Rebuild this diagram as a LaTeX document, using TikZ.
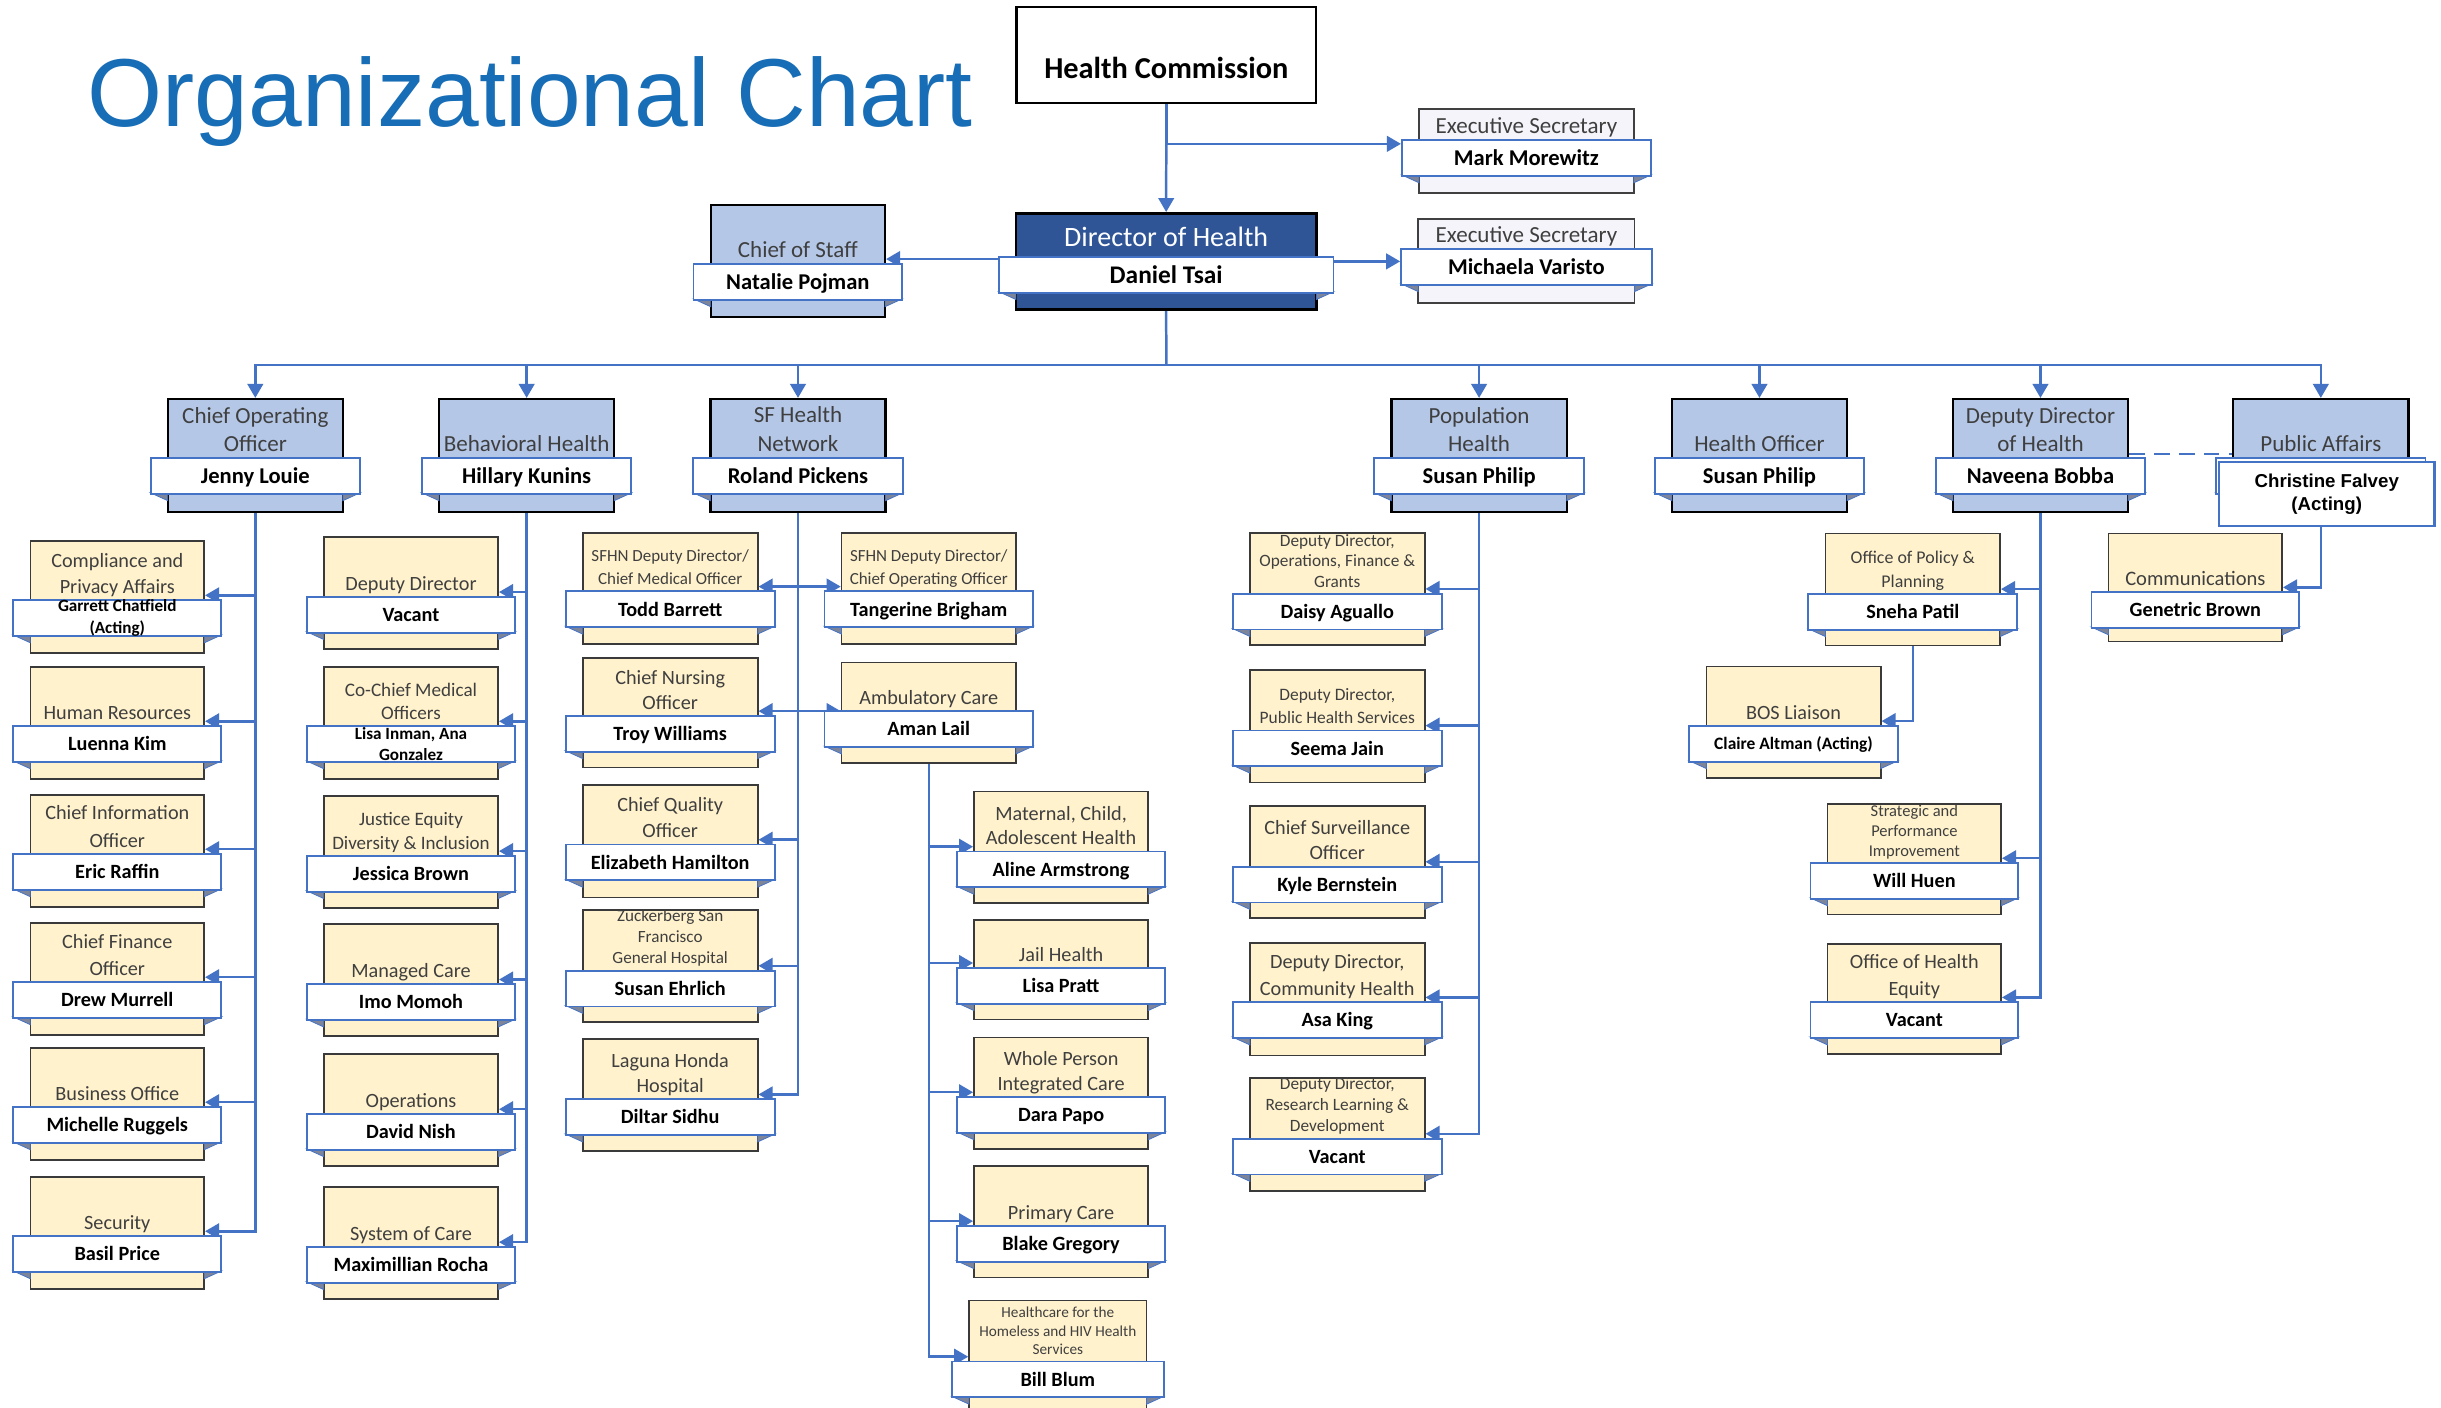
\documentclass[tikz,border=0pt]{standalone}
\usepackage{fontspec}
\setmainfont{Carlito}
\newfontfamily\afont{Liberation Sans}
\usetikzlibrary{arrows.meta,calc}
\pgfdeclarelayer{back}
\pgfdeclarelayer{bg}
\pgfsetlayers{back,bg,main}
\definecolor{cblue}{HTML}{4472C4}
\definecolor{lblue}{HTML}{B4C7E7}
\definecolor{dblue}{HTML}{2F5597}
\definecolor{lyel}{HTML}{FFF2CC}
\definecolor{txtg}{HTML}{3F3F3F}
\definecolor{ygray}{HTML}{3A3A3A}
\definecolor{egray}{HTML}{404040}
\definecolor{esfill}{HTML}{F4F4FA}
\definecolor{foldc}{HTML}{7F8598}
\definecolor{titleblue}{HTML}{176DB6}
\newcommand\lastdp{\rule[-4pt]{0pt}{4pt}}
\newcommand\orgbox[7]{%
  \node[#7, minimum width={#4}, minimum height={#5}, anchor=north] (#1) at ({#2},{#3}) {};
  \filldraw[fold] ({#2-#4/2-11},{#3+#6+23}) -- ({#2-#4/2},{#3+#6+23}) -- ({#2-#4/2},{#3+#6+28}) -- cycle;
  \filldraw[fold] ({#2+#4/2+11},{#3+#6+23}) -- ({#2+#4/2},{#3+#6+23}) -- ({#2+#4/2},{#3+#6+28}) -- cycle;
  \node[band, minimum width={#4+22}, anchor=north] (#1-n) at ({#2},{#3+#6}) {};}
\newcommand\Ttl[4]{\node[ttl={#2}{#3}] at ([yshift=-0.5pt]#1-n.north) {#4\lastdp};}
\newcommand\Nm[3]{\node[nm=#2] at (#1-n) {#3};}
\newcommand\Nmm[4]{\node[nmm={#2}{#3}] at (#1-n) {#4};}
\newcommand\toL[2]{\draw[arr] (#1.south) |- ($(#2.east |- #2-n.north)+(0pt,2.5pt)$);}
\newcommand\toR[2]{\draw[arr] (#1.south) |- ($(#2.west |- #2-n.north)+(0pt,2.5pt)$);}
\begin{document}
\begin{tikzpicture}[x=1pt,y=-1pt,
  conn/.style={draw=cblue, line width=1.6pt},
  arr/.style={conn, -{Triangle[length=9pt,width=10pt]}},
  bbox/.style={draw=black, line width=1.4pt, fill=lblue, inner sep=0pt},
  ybox/.style={draw=ygray, line width=1.1pt, fill=lyel, inner sep=0pt},
  dbox/.style={draw=black, line width=1.8pt, fill=dblue, inner sep=0pt},
  ebox/.style={draw=egray, line width=1.1pt, fill=esfill, inner sep=0pt},
  band/.style={draw=cblue, line width=1.2pt, fill=white, minimum height=23pt, inner sep=0pt},
  fold/.style={fill=foldc, draw=cblue, line width=0.5pt},
  ttl/.style 2 args={anchor=south, inner sep=0pt, align=center, text=txtg, font=\fontsize{#1}{#2}\selectfont},
  nm/.style={inner sep=0pt, text depth=0pt, text height=0.66*#1pt, text=black, font=\bfseries\fontsize{#1}{#1}\selectfont},
  nmm/.style 2 args={inner sep=0pt, align=center, text=black, font=\bfseries\fontsize{#1}{#2}\selectfont},
]
\useasboundingbox (0,0) rectangle (1568,904.4);
\begin{pgfonlayer}{back}
\fill[white] (0,0) rectangle (1568,904.4);
\end{pgfonlayer}

\node[anchor=base west, inner sep=0pt, text=titleblue, font=\afont\fontsize{62}{62}\selectfont] (title) at (56,81.5) {Organizational Chart};

% top
\node[draw=black, line width=1.5pt, fill=white, minimum width=192.5pt, minimum height=61.7pt, anchor=north, inner sep=0pt] (hc) at (749.2,3.9) {};
\node[nm=19.5] at (749.2,43.7) {Health Commission};

\orgbox{es1}{980.5}{69.4}{138}{54}{20}{ebox}
\Ttl{es1}{14.8}{17}{Executive Secretary}
\Nm{es1}{14.5}{Mark Morewitz}

\orgbox{dir}{749.1}{136.2}{193}{61.6}{28.2}{dbox}
\node[ttl={18}{20}, text=white] at ([yshift=1.7pt]dir-n.north) {Director of Health\lastdp};
\Nm{dir}{16.3}{Daniel Tsai}

\orgbox{cos}{512.5}{131}{112}{72}{38}{bbox}
\Ttl{cos}{14.8}{17.7}{Chief of Staff}
\Nm{cos}{14.5}{Natalie Pojman}

\orgbox{es2}{980.5}{140}{139}{54}{19.3}{ebox}
\Ttl{es2}{14.8}{17}{Executive Secretary}
\Nm{es2}{14.5}{Michaela Varisto}

% level 2
\orgbox{coo}{164}{255.6}{112.5}{72.4}{38}{bbox}
\Ttl{coo}{14.8}{17.7}{Chief Operating\\Officer}
\Nm{coo}{14.5}{Jenny Louie}
\orgbox{bh}{338.3}{255.6}{112.5}{72.4}{38}{bbox}
\Ttl{bh}{14.8}{17.7}{Behavioral Health}
\Nm{bh}{14.5}{Hillary Kunins}
\orgbox{sfhn}{512.6}{255.6}{112.5}{72.4}{38}{bbox}
\Ttl{sfhn}{14.8}{18.3}{SF Health\\Network}
\Nm{sfhn}{14.5}{Roland Pickens}
\orgbox{poph}{950.1}{255.6}{112.5}{72.4}{38}{bbox}
\Ttl{poph}{14.8}{18}{Population\\Health}
\Nm{poph}{14.5}{Susan Philip}
\orgbox{ho}{1130.2}{255.6}{112.5}{72.4}{38}{bbox}
\Ttl{ho}{14.8}{17.7}{Health Officer}
\Nm{ho}{14.5}{Susan Philip}
\orgbox{ddh}{1310.7}{255.6}{112.5}{72.4}{38}{bbox}
\Ttl{ddh}{14.8}{17.7}{Deputy Director\\of Health}
\Nm{ddh}{14.5}{Naveena Bobba}
\orgbox{pa}{1490.8}{255.6}{112.5}{72.4}{38}{bbox}
\Ttl{pa}{14.8}{17.7}{Public Affairs}
\node[draw=cblue, line width=1.4pt, fill=white, minimum width=138.5pt, minimum height=40.9pt, anchor=north, inner sep=0pt] (cf) at (1494.6,296.3) {};
\node[inner sep=0pt, align=center, font=\afont\bfseries\fontsize{12}{14.4}\selectfont] at (cf) {Christine Falvey\\(Acting)};

% COO children
\orgbox{cpa}{75.35}{346.9}{111.7}{72}{38}{ybox}
\Ttl{cpa}{13}{16.9}{Compliance and\\Privacy Affairs}
\Nmm{cpa}{11}{13.9}{Garrett Chatfield\\(Acting)}
\orgbox{hr}{75.35}{427.8}{111.7}{72}{38}{ybox}
\Ttl{hr}{13}{17}{Human Resources}
\Nm{hr}{13}{Luenna Kim}
\orgbox{cio}{75.35}{510}{111.7}{72}{38}{ybox}
\Ttl{cio}{13}{17.6}{Chief Information\\Officer}
\Nm{cio}{13}{Eric Raffin}
\orgbox{cfo}{75.35}{592.2}{111.7}{72}{38}{ybox}
\Ttl{cfo}{13}{17}{Chief Finance\\Officer}
\Nm{cfo}{13}{Drew Murrell}
\orgbox{bo}{75.35}{672.5}{111.7}{72}{38}{ybox}
\Ttl{bo}{13}{17}{Business Office}
\Nm{bo}{13}{Michelle Ruggels}
\orgbox{sec}{75.35}{755.4}{111.7}{72}{38}{ybox}
\Ttl{sec}{13}{17}{Security}
\Nm{sec}{13}{Basil Price}

% BH children
\orgbox{bdd}{264}{344.3}{112}{72}{38.5}{ybox}
\Ttl{bdd}{13}{17}{Deputy Director}
\Nm{bdd}{13}{Vacant}
\orgbox{ccmo}{264}{427.8}{112}{72}{38}{ybox}
\Ttl{ccmo}{12.3}{15}{Co-Chief Medical\\Officers}
\Nmm{ccmo}{11}{13.9}{Lisa Inman, Ana\\Gonzalez}
\orgbox{jedi}{264}{510.7}{112}{72}{38.5}{ybox}
\Ttl{jedi}{12.2}{15}{Justice Equity\\Diversity \& Inclusion}
\Nm{jedi}{13}{Jessica Brown}
\orgbox{mc}{264}{592.9}{112}{72}{38.8}{ybox}
\Ttl{mc}{13}{17}{Managed Care}
\Nm{mc}{13}{Imo Momoh}
\orgbox{ops}{264}{676.4}{112}{72}{38.6}{ybox}
\Ttl{ops}{13}{17}{Operations}
\Nm{ops}{13}{David Nish}
\orgbox{soc}{264}{761.8}{112}{72}{38.6}{ybox}
\Ttl{soc}{13}{17}{System of Care}
\Nm{soc}{13}{Maximillian Rocha}

% SFHN children
\orgbox{tb}{430.5}{342}{112.4}{71.2}{37.3}{ybox}
\Ttl{tb}{10.9}{14.6}{SFHN Deputy Director/\\Chief Medical Officer}
\Nm{tb}{13}{Todd Barrett}
\orgbox{tw}{430.5}{421.9}{112.4}{70.6}{37.4}{ybox}
\Ttl{tw}{13}{15.9}{Chief Nursing\\Officer}
\Nm{tw}{13}{Troy Williams}
\orgbox{eh}{430.5}{503.7}{112.4}{72.3}{38.2}{ybox}
\Ttl{eh}{13}{16.7}{Chief Quality\\Officer}
\Nm{eh}{13}{Elizabeth Hamilton}
\orgbox{se}{430.5}{584.2}{112.4}{71.6}{38.7}{ybox}
\Ttl{se}{11}{13.7}{Zuckerberg San\\Francisco\\General Hospital}
\Nm{se}{13}{Susan Ehrlich}
\orgbox{ds}{430.5}{666.9}{112.4}{72}{38.6}{ybox}
\Ttl{ds}{13}{16}{Laguna Honda\\Hospital}
\Nm{ds}{13}{Diltar Sidhu}
\orgbox{tgb}{596.6}{342}{112}{71.2}{37.3}{ybox}
\Ttl{tgb}{10.9}{14.6}{SFHN Deputy Director/\\Chief Operating Officer}
\Nm{tgb}{13}{Tangerine Brigham}
\orgbox{amb}{596.6}{425.1}{112}{64.5}{31.2}{ybox}
\Ttl{amb}{13}{16}{Ambulatory Care}
\Nm{amb}{13}{Aman Lail}

% Ambulatory children
\orgbox{mch}{681.6}{507.9}{112}{71.7}{38.5}{ybox}
\Ttl{mch}{13}{15.6}{Maternal, Child,\\Adolescent Health}
\Nm{mch}{13}{Aline Armstrong}
\orgbox{jh}{681.6}{590.4}{112}{63.9}{30.7}{ybox}
\Ttl{jh}{13}{16}{Jail Health}
\Nm{jh}{13}{Lisa Pratt}
\orgbox{wp}{681.6}{665.8}{112}{71.5}{38.3}{ybox}
\Ttl{wp}{13}{16.1}{Whole Person\\Integrated Care}
\Nm{wp}{13}{Dara Papo}
\orgbox{pc}{681.6}{748.6}{112}{71.4}{38.3}{ybox}
\Ttl{pc}{13}{16}{Primary Care}
\Nm{pc}{13}{Blake Gregory}
\orgbox{hh}{679.5}{834.9}{114}{80}{39.1}{ybox}
\Ttl{hh}{9.8}{12}{Healthcare for the\\Homeless and HIV Health\\Services}
\Nm{hh}{13}{Bill Blum}

% Population Health children
\orgbox{da}{859}{341.7}{112.3}{72.2}{39.1}{ybox}
\Ttl{da}{11.1}{13.1}{Deputy Director,\\Operations, Finance \&\\Grants}
\Nm{da}{13}{Daisy Aguallo}
\orgbox{sj}{859}{429.9}{112.3}{72.2}{38.7}{ybox}
\Ttl{sj}{11.2}{14.7}{Deputy Director,\\Public Health Services}
\Nm{sj}{13}{Seema Jain}
\orgbox{kb}{859}{517.1}{112.3}{72.2}{39}{ybox}
\Ttl{kb}{13}{16.3}{Chief Surveillance\\Officer}
\Nm{kb}{13}{Kyle Bernstein}
\orgbox{ak}{859}{605.2}{112.3}{72.2}{38}{ybox}
\Ttl{ak}{13}{17.1}{Deputy Director,\\Community Health}
\Nm{ak}{13}{Asa King}
\orgbox{rld}{859}{692.1}{112.3}{72.2}{38.7}{ybox}
\Ttl{rld}{11.1}{13.6}{Deputy Director,\\Research Learning \&\\Development}
\Nm{rld}{13}{Vacant}

% Deputy Director of Health children
\orgbox{op}{1228.7}{342.2}{112.2}{71.9}{38.7}{ybox}
\Ttl{op}{11.5}{15.5}{Office of Policy \&\\Planning}
\Nm{op}{13}{Sneha Patil}
\orgbox{bos}{1152.1}{427.6}{112}{71.7}{38.1}{ybox}
\Ttl{bos}{13}{16}{BOS Liaison}
\Nm{bos}{11.2}{Claire Altman (Acting)}
\orgbox{sp}{1229.7}{516}{111.5}{70.8}{37.8}{ybox}
\Ttl{sp}{10.6}{12.9}{Strategic and\\Performance\\Improvement}
\Nm{sp}{13}{Will Huen}
\orgbox{ohe}{1229.7}{606}{111.5}{70.5}{37.2}{ybox}
\Ttl{ohe}{13}{17.1}{Office of Health\\Equity}
\Nm{ohe}{13}{Vacant}

% Public Affairs child
\orgbox{com}{1410.2}{342.2}{111.5}{69.4}{37.6}{ybox}
\Ttl{com}{13.2}{16}{Communications}
\Nm{com}{13}{Genetric Brown}

% connectors
\begin{pgfonlayer}{bg}
\draw[arr] (hc.south) -- (dir.north);
\draw[arr] (hc.south) |- ($(es1-n.north west)+(0pt,-3pt)$);
\coordinate (cosA) at ($(cos.east |- cos-n.north)+(0pt,2.6pt)$);
\draw[arr] (dir.west |- cosA) -- (cosA);
\coordinate (es2A) at ($(es2-n.west)+(0pt,3.5pt)$);
\draw[arr] (dir.east |- es2A) -- (es2A);
\coordinate (bus) at (749.2,234.5);
\draw[conn] (dir.south) -- (bus);
\foreach \t in {coo,bh,sfhn,poph,ho,ddh,pa} {\draw[arr] (bus) -| (\t.north);}
\foreach \c in {cpa,hr,cio,cfo,bo,sec} {\toL{coo}{\c}}
\foreach \c in {bdd,ccmo,jedi,mc,ops,soc} {\toL{bh}{\c}}
\foreach \c in {tb,tw,eh,se,ds} {\toL{sfhn}{\c}}
\toR{sfhn}{tgb}
\coordinate (twA) at ($(tw.east |- tw-n.north)+(0pt,2.5pt)$);
\draw[arr] (sfhn.south) |- (amb.west |- twA);
\foreach \c in {mch,jh,wp,pc,hh} {\toR{amb}{\c}}
\foreach \c in {da,sj,kb,ak,rld} {\toL{poph}{\c}}
\foreach \c in {op,sp,ohe} {\toL{ddh}{\c}}
\toL{op}{bos}
\draw[arr] (pa.south |- cf.south) |- ($(com.east |- com-n.north)+(0pt,2.5pt)$);
\draw[conn, line width=1.4pt, dash pattern=on 10pt off 6pt] ($(ddh.east |- ddh-n.north)+(0pt,2.2pt)$) -- ($(pa.west |- ddh-n.north)+(0pt,2.2pt)$);
\end{pgfonlayer}
\end{tikzpicture}
\end{document}
